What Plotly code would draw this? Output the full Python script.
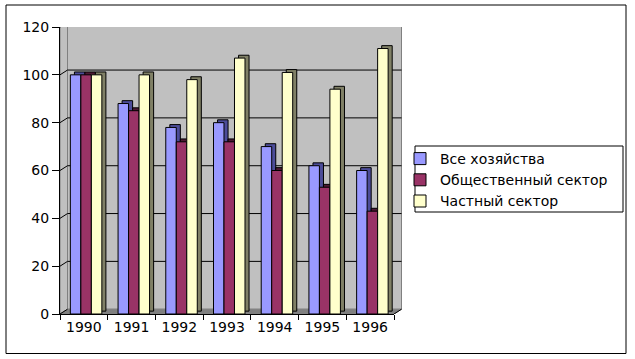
import plotly.graph_objects as go

years = ["1990", "1991", "1992", "1993", "1994", "1995", "1996"]
series_names = ["Все хозяйства", "Общественный сектор", "Частный сектор"]
all_farms = [100, 88, 78, 80, 70, 62, 60]
public_sector = [100, 85, 72, 72, 60, 53, 43]
private_sector = [100, 100, 98, 107, 101, 94, 111]
y_ticks = [0, 20, 40, 60, 80, 100, 120]

values = [all_farms, public_sector, private_sector]
front_colors = ["#9999FF", "#993366", "#FFFFCC"]
side_colors = ["#4C4C99", "#4C1933", "#808066"]

W, H = 635, 359
L, R, T, B = 60, 241, 27, 45
PW = W - L - R
PH = H - T - B

def px(x):
    return (x - L) / PW

def py(y):
    return (H - B - y) / PH

FONT = "DejaVu Sans"
bar_w = 0.22
offsets = [-0.283, -0.063, 0.157]
side_dx = 0.085
side_dy = 1.2
wall_dx = px(L + 7.5)
depth = 2

fig = go.Figure()
# 3D side faces
for vals, off, col in zip(values, offsets, side_colors):
    fig.add_trace(go.Bar(
        x=years, y=vals, base=side_dy, offset=off + side_dx, width=bar_w,
        marker=dict(color=col, line=dict(color="black", width=1)),
        showlegend=False, hoverinfo="skip"))
# front faces
for name, vals, off, col in zip(series_names, values, offsets, front_colors):
    fig.add_trace(go.Bar(
        x=years, y=vals, name=name, offset=off, width=bar_w,
        marker=dict(color=col, line=dict(color="black", width=1))))

shapes = []
# outer frame
shapes.append(dict(type="rect", xref="paper", yref="paper",
                   x0=px(6), x1=px(626), y0=py(5), y1=py(353.5),
                   line=dict(color="black", width=1), layer="below"))
# back wall
shapes.append(dict(type="rect", xref="paper", yref="y",
                   x0=wall_dx, x1=1 + wall_dx, y0=depth, y1=y_ticks[-1] + depth,
                   fillcolor="#C0C0C0", line=dict(color="#808080", width=1), layer="below"))
# left wall
shapes.append(dict(type="path", xref="paper", yref="y",
                   path=f"M 0 0 L 0 {y_ticks[-1]} L {wall_dx} {y_ticks[-1] + depth} L {wall_dx} {depth} Z",
                   fillcolor="#C0C0C0", line=dict(color="#808080", width=1), layer="below"))
# floor
shapes.append(dict(type="path", xref="paper", yref="y",
                   path=f"M 0 0 L {wall_dx} {depth} L {1 + wall_dx} {depth} L 1 0 Z",
                   fillcolor="#808080", line=dict(color="#808080", width=1), layer="below"))
# gridlines on back wall + tick diagonals
for t in y_ticks:
    if 0 < t < y_ticks[-1]:
        shapes.append(dict(type="line", xref="paper", yref="y",
                           x0=wall_dx, x1=1 + wall_dx, y0=t + depth, y1=t + depth,
                           line=dict(color="black", width=1), layer="below"))
    shapes.append(dict(type="line", xref="paper", yref="y",
                       x0=0, x1=wall_dx, y0=t, y1=t + depth,
                       line=dict(color="black", width=1), layer="below"))
# right end diagonal of x axis
shapes.append(dict(type="line", xref="paper", yref="y",
                   x0=1, x1=1 + wall_dx, y0=0, y1=depth,
                   line=dict(color="black", width=1)))
# legend frame
shapes.append(dict(type="rect", xref="paper", yref="paper",
                   x0=px(415), x1=px(623), y0=py(146), y1=py(212),
                   line=dict(color="black", width=1), fillcolor="white", layer="below"))

fig.update_layout(
    width=W, height=H,
    margin=dict(l=L, r=R, t=T, b=B, autoexpand=False),
    paper_bgcolor="white", plot_bgcolor="rgba(0,0,0,0)",
    barmode="overlay",
    shapes=shapes,
    font=dict(family=FONT, size=14, color="black"),
    showlegend=True,
    legend=dict(x=px(400), y=py(143), xanchor="left", yanchor="top",
                bgcolor="rgba(0,0,0,0)", borderwidth=0, itemwidth=30,
                font=dict(family=FONT, size=14, color="black"),
                traceorder="normal", itemclick=False),
    xaxis=dict(type="category", tickson="boundaries", ticks="outside", ticklen=5,
               tickcolor="black", showline=True, linecolor="black", linewidth=1,
               showgrid=False, zeroline=False, fixedrange=True,
               tickfont=dict(family=FONT, size=14)),
    yaxis=dict(range=[0, y_ticks[-1]], tickvals=y_ticks, ticks="outside", ticklen=7,
               tickcolor="black", showline=True, linecolor="black", linewidth=1,
               showgrid=False, zeroline=False, fixedrange=True,
               tickfont=dict(family=FONT, size=14)),
)

fig.write_html("out.html", config={"displayModeBar": False},
               post_script="document.body.style.margin='0';")
